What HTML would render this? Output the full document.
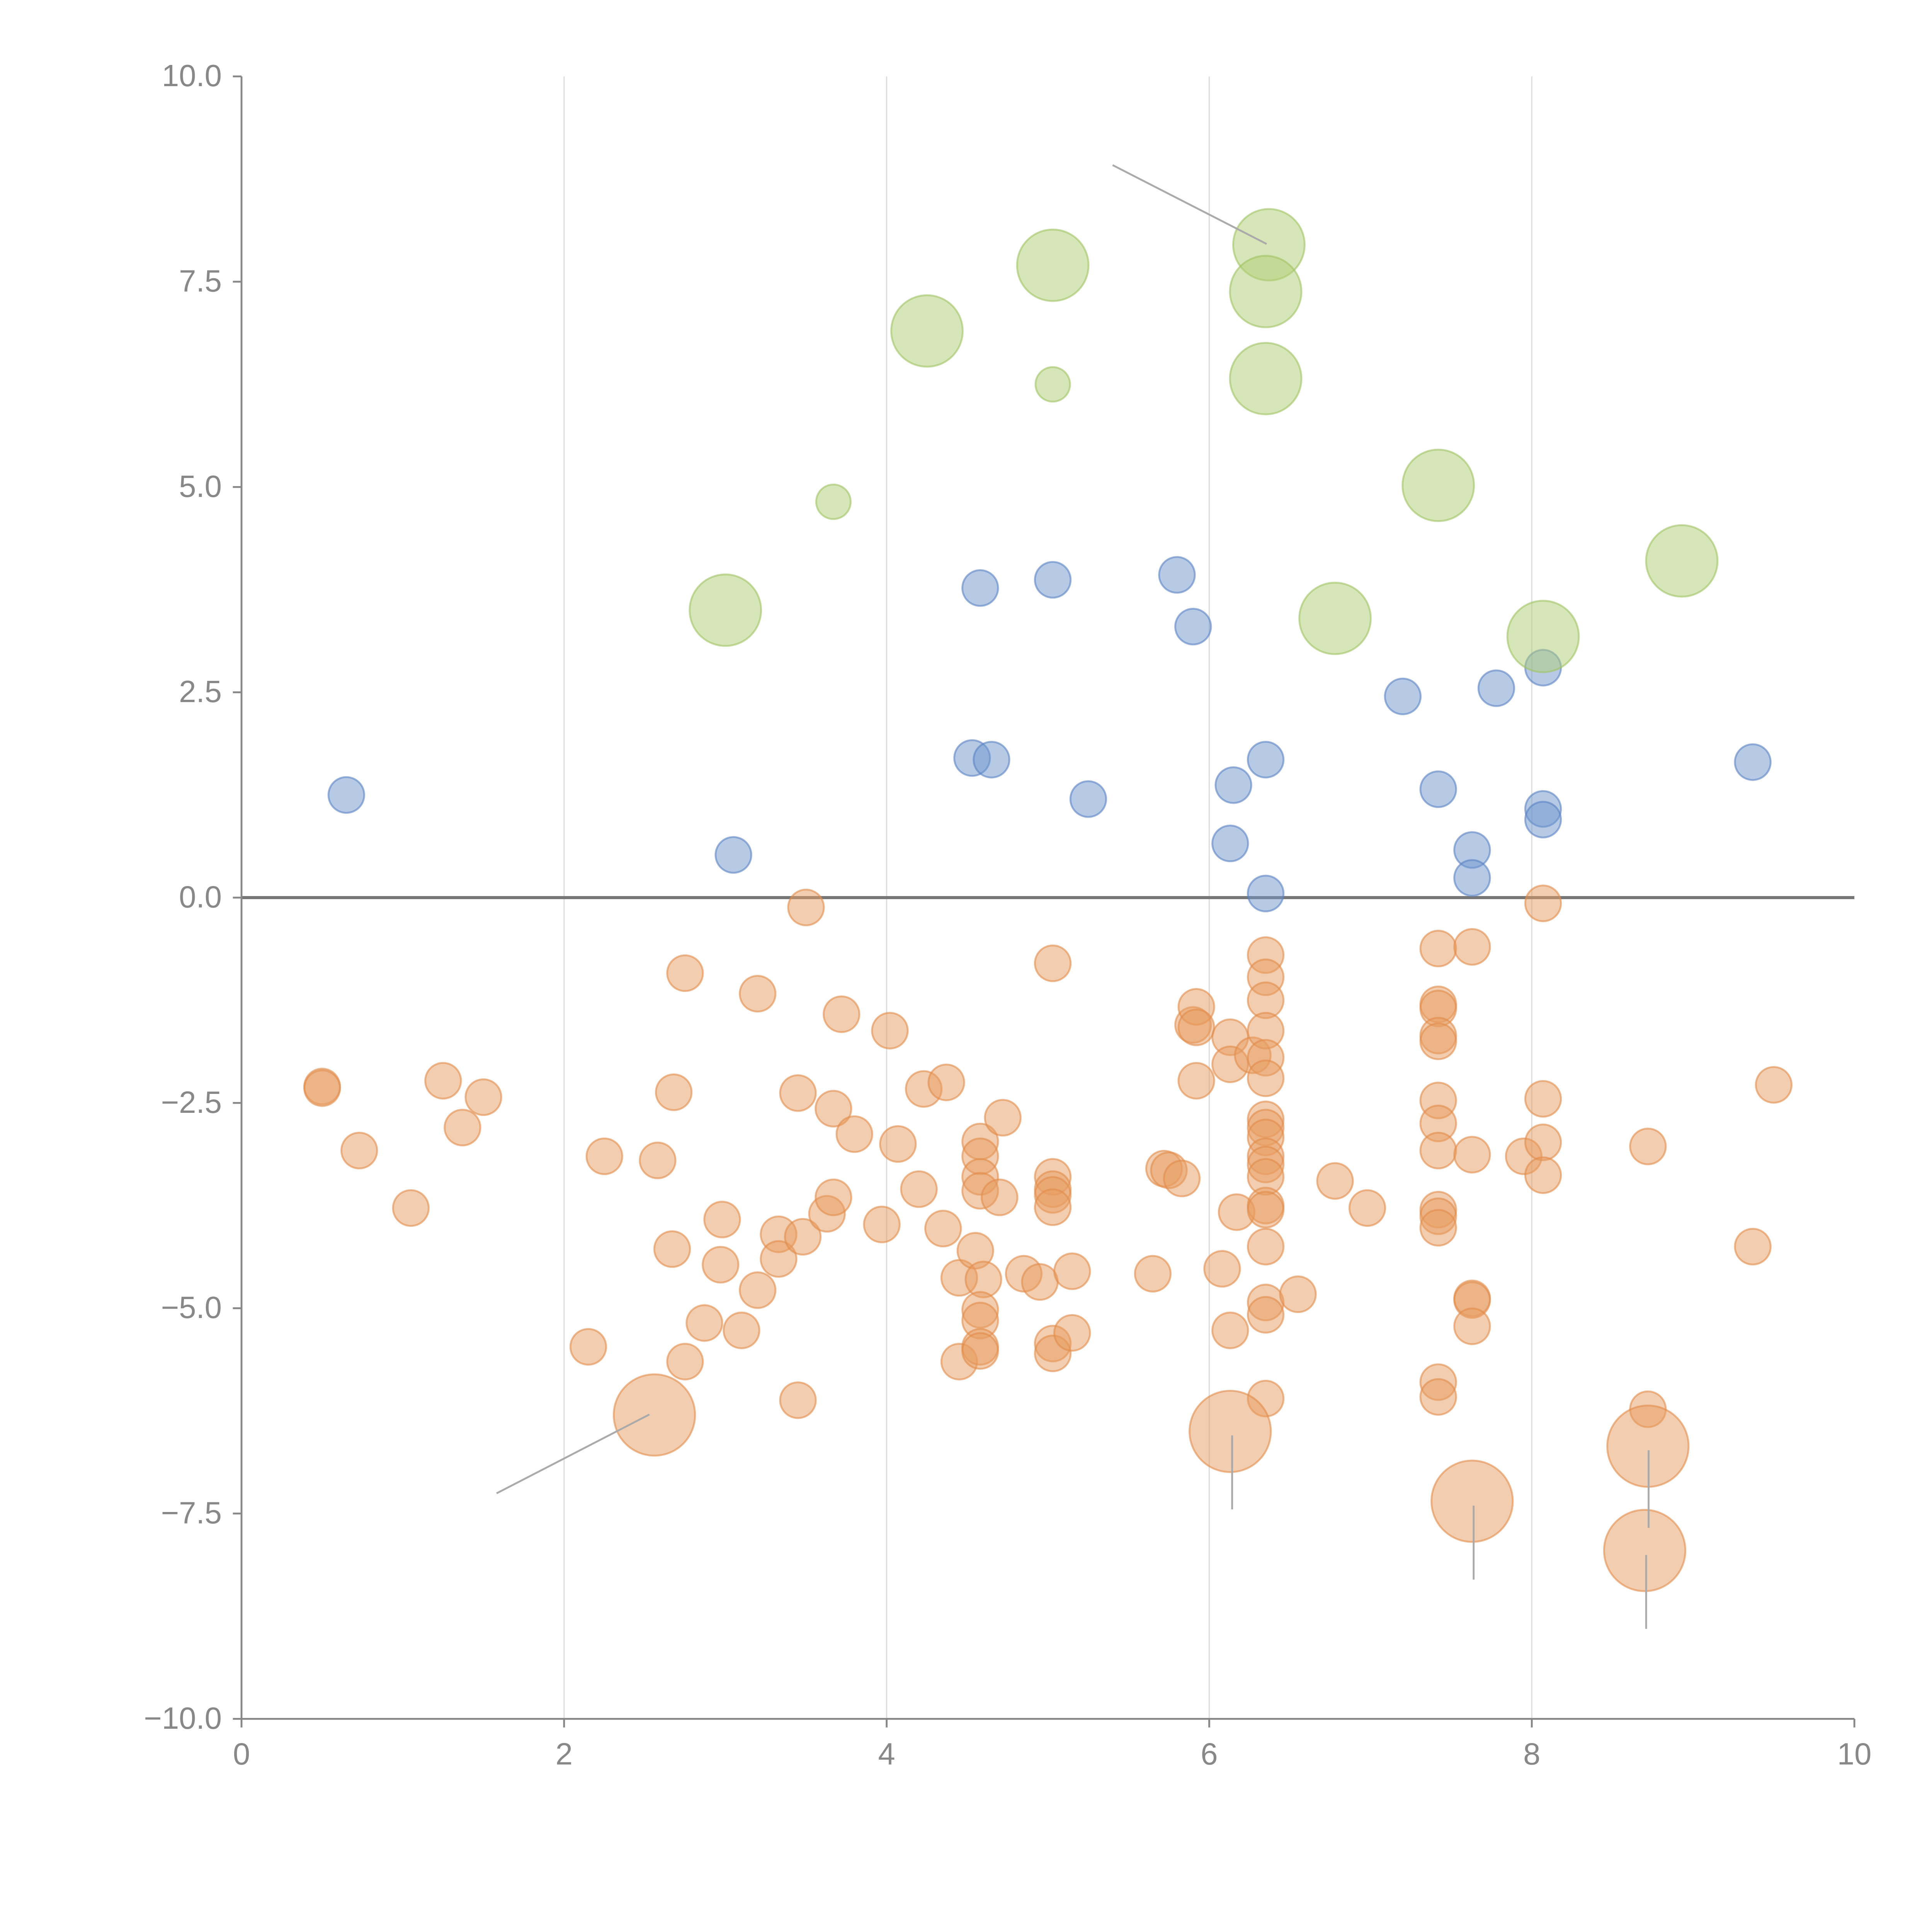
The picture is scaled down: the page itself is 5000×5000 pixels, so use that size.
<!DOCTYPE html>
<html><head><meta charset="utf-8"><style>
html,body{margin:0;padding:0;background:#fff;}
svg{display:block;}
text{font-family:"Liberation Sans",sans-serif;fill:#888;font-size:25px;}
</style></head><body>
<svg id="chart" width="5000" height="5000" viewBox="0 0 1568 1568" xmlns="http://www.w3.org/2000/svg">
<g id="grid"></g>
<g id="marks"></g>
<g id="axes"></g>
</svg>
<script>
const xTicks=[0,2,4,6,8,10];
const yTicks=[-10,-7.5,-5,-2.5,0,2.5,5,7.5,10];
const blueX=[0.65,3.05,4.58,5.03,5.8,5.9,4.53,4.65,5.25,6.15,6.35,6.13,6.35,7.2,7.42,7.78,8.07,8.07,8.07,7.63,7.63,9.37];
const blueY=[1.25,0.52,3.77,3.87,3.93,3.3,1.7,1.68,1.2,1.37,1.68,0.66,0.05,2.45,1.32,2.55,2.8,1.08,0.95,0.58,0.24,1.65];
const greenX=[3.0,4.25,5.03,6.37,6.35,6.35,7.42,6.78,8.07,8.93,3.67,5.03];
const greenY=[3.5,6.9,7.7,7.95,7.38,6.32,5.02,3.4,3.18,4.1,4.82,6.25];
const greenSize=[2,2,2,2,2,2,2,2,2,2,1,1];
const orangeBigX=[2.56,6.13,7.63,8.72,8.7];
const orangeBigY=[-6.3,-6.5,-7.35,-6.68,-7.95];
const orangeX=[0.5,0.5,0.73,1.05,1.25,1.37,1.5,2.15,2.25,2.58,2.67,2.68,2.75,2.75,2.87,2.97,2.98,3.1,3.2,3.2,3.33,3.33,3.45,3.45,3.48,3.5,3.63,3.67,3.67,3.72,3.8,3.97,4.02,4.07,4.2,4.23,4.35,4.37,4.45,4.45,4.55,4.58,4.58,4.58,4.58,4.6,4.58,4.58,4.58,4.58,4.7,4.72,4.85,4.95,5.03,5.03,5.03,5.03,5.03,5.03,5.03,5.15,5.15,5.65,5.72,5.75,5.83,5.9,5.92,5.92,5.92,6.08,6.13,6.13,6.13,6.17,6.27,6.35,6.35,6.35,6.35,6.35,6.35,6.35,6.35,6.35,6.35,6.35,6.35,6.35,6.35,6.35,6.35,6.35,6.35,6.55,6.78,6.98,7.42,7.42,7.42,7.42,7.42,7.42,7.42,7.42,7.42,7.42,7.42,7.42,7.42,7.63,7.63,7.63,7.63,7.63,7.95,8.07,8.07,8.07,8.07,8.72,8.72,9.37,9.5];
const orangeY=[-2.3,-2.32,-3.08,-3.78,-2.23,-2.8,-2.43,-5.47,-3.15,-3.2,-4.28,-2.37,-0.92,-5.65,-5.18,-4.47,-3.92,-5.27,-1.17,-4.78,-4.1,-4.4,-2.38,-6.12,-4.13,-0.12,-3.85,-2.57,-3.65,-1.42,-2.88,-3.98,-1.62,-3.0,-3.55,-2.33,-4.03,-2.25,-4.63,-5.65,-4.3,-2.97,-3.15,-3.4,-3.57,-4.65,-5.02,-5.15,-5.47,-5.52,-3.65,-2.68,-4.58,-4.68,-0.8,-3.4,-3.55,-3.62,-3.77,-5.43,-5.55,-4.55,-5.3,-4.58,-3.3,-3.32,-3.42,-1.55,-1.33,-1.58,-2.23,-4.52,-1.7,-2.03,-5.27,-3.83,-1.92,-0.7,-0.97,-1.25,-1.62,-1.95,-2.2,-2.7,-2.8,-2.92,-3.15,-3.25,-3.4,-3.75,-3.8,-4.25,-4.93,-5.08,-6.1,-4.83,-3.45,-3.78,-0.62,-1.3,-1.35,-1.68,-1.75,-2.47,-2.75,-3.08,-3.8,-3.88,-4.02,-5.9,-6.08,-0.6,-3.13,-4.88,-4.9,-5.22,-3.15,-0.07,-2.45,-2.98,-3.38,-3.03,-6.23,-4.25,-2.28];
const X=v=>196+(v/10)*1309;
const Y=v=>62+(10-v)/20*1333;
const NS="http://www.w3.org/2000/svg";
function mk(tag,parent,attrs){const e=document.createElementNS(NS,tag);for(const k in attrs)e.setAttribute(k,attrs[k]);parent.appendChild(e);return e;}
const grid=document.getElementById('grid'),marks=document.getElementById('marks'),axes=document.getElementById('axes');
[2,4,6,8].forEach(t=>{const l=mk('line',grid,{x1:X(t),x2:X(t),y1:Y(10),y2:Y(-10),stroke:'#ddd','stroke-width':1});

});
const zl=mk('line',grid,{x1:X(0),x2:X(10),y1:Y(0),y2:Y(0),stroke:'#777','stroke-width':2.5});


function dot(x,y,r,fill,stroke,name){const c=mk('circle',marks,{cx:X(x),cy:Y(y),r:r,fill:fill,stroke:stroke,'stroke-width':1.5});

}
blueX.forEach((x,i)=>dot(x,blueY[i],14.5,'rgba(110,150,205,0.5)','rgba(90,130,195,0.6)','blue-point'));
greenX.forEach((x,i)=>dot(x,greenY[i],greenSize[i]==2?29:14,'rgba(175,205,115,0.5)','rgba(160,195,100,0.6)','green-point'));
orangeX.forEach((x,i)=>dot(x,orangeY[i],14.5,'rgba(232,155,95,0.5)','rgba(225,140,75,0.6)','orange-point'));
orangeBigX.forEach((x,i)=>dot(x,orangeBigY[i],33,'rgba(232,155,95,0.5)','rgba(225,140,75,0.6)','orange-big-point'));
[[903,134,1028,198],[403,1212,527,1148],[1000,1165,1000,1225],[1196,1222,1196,1282],[1338,1177,1338,1240],[1336,1262,1336,1322]].forEach(a=>{
const l=mk('line',marks,{x1:a[0],y1:a[1],x2:a[2],y2:a[3],stroke:'#aaa','stroke-width':1.5});

});
const ya=mk('line',axes,{x1:X(0),x2:X(0),y1:Y(10),y2:Y(-10),stroke:'#888','stroke-width':1.5});


const xa=mk('line',axes,{x1:X(0),x2:X(10),y1:Y(-10),y2:Y(-10),stroke:'#888','stroke-width':1.5});


yTicks.forEach(t=>{mk('line',axes,{x1:X(0)-7,x2:X(0),y1:Y(t),y2:Y(t),stroke:'#888','stroke-width':1.5});
const tx=mk('text',axes,{x:X(0)-16,y:Y(t)+8,'text-anchor':'end'});tx.textContent=(t<0?'\u2212':'')+Math.abs(t).toFixed(1);

});
xTicks.forEach(t=>{mk('line',axes,{x1:X(t),x2:X(t),y1:Y(-10),y2:Y(-10)+7,stroke:'#888','stroke-width':1.5});
const tx=mk('text',axes,{x:X(t),y:Y(-10)+37,'text-anchor':'middle'});tx.textContent=t;

});
</script>
</body></html>
